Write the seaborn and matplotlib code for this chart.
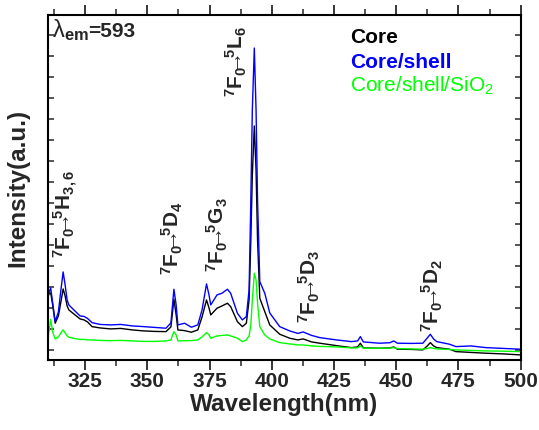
import numpy as np
import pandas as pd
import seaborn as sns
import matplotlib
matplotlib.use('Agg')
import matplotlib.pyplot as plt
from matplotlib.ticker import MultipleLocator, FixedLocator, NullFormatter

# wavelength grid (nm)
wl = [310.0, 310.6, 311.2, 312.0, 313.0, 314.3, 315.3, 316.2, 317.0, 317.8,
      318.5, 320.5, 323.0, 324.6, 326.0, 327.8, 331.0, 335.3, 339.3, 344.0,
      348.6, 353.0, 357.5, 359.5, 360.7, 361.6, 362.3, 365.0, 367.7, 370.3,
      372.0, 373.8, 374.8, 375.5, 378.0, 380.0, 382.2, 383.5, 386.2, 388.2,
      389.8, 390.9, 391.6, 392.2, 393.0, 393.7, 394.3, 395.2, 397.2, 399.2,
      403.2, 407.2, 410.5, 412.6, 416.0, 419.3, 426.0, 432.0, 434.5, 435.6,
      436.8, 443.3, 447.5, 449.0, 450.5, 456.0, 460.7, 462.5, 463.7, 465.0,
      466.3, 471.4, 474.0, 480.0, 486.0, 493.0, 500.0]

core = [63, 67, 67, 55, 36.7, 44, 58, 71, 64, 54,
        50, 46, 41, 40, 38, 33.3, 32, 31, 31.5, 30,
        29, 28.5, 28.3, 33, 60.7, 45, 30, 29.3, 27.7, 30,
        43, 60, 52, 45, 51.7, 54, 56.7, 53.3, 38.3, 33.3,
        36.7, 60, 120, 185, 234, 190, 120, 61.7, 48.3, 35,
        25.7, 21.7, 20, 21, 18, 16.7, 14.3, 12.3, 13, 16.7,
        12, 11.7, 12, 13, 10.7, 10.5, 10, 14, 17.3, 14,
        12.3, 10.7, 8.3, 7.5, 6.7, 6, 5]

core_shell = [60, 68, 72, 57, 38.5, 48, 70, 88, 75, 60,
              55, 50, 44, 43.5, 41.5, 37.3, 35.5, 35, 35.5, 34,
              33.3, 32.5, 31.7, 37, 70.7, 55, 35, 36.7, 32.7, 35,
              50, 76, 65, 55, 65, 66.7, 70.7, 66.7, 46.7, 40,
              43.3, 70, 160, 250, 312, 250, 160, 78.3, 66.7, 47,
              33.3, 29, 26.5, 28, 24.5, 22.3, 20, 18.3, 19, 23.3,
              18, 16.7, 17.2, 19, 16.7, 16.5, 16.7, 22, 25.7, 21,
              18.3, 15.7, 13.3, 14, 12.3, 11.5, 10.7]

core_shell_sio2 = [20, 30, 40.5, 28, 21, 23, 27, 30, 27, 24,
                   22.7, 21.5, 20.5, 20.5, 20, 20, 19.5, 19.3, 19.5, 19,
                   18.5, 18.5, 19, 20, 28.3, 25, 19, 19.2, 19.3, 20,
                   23, 27.3, 25, 21.7, 24, 24.5, 25, 24, 21.7, 18.3,
                   20, 24, 35, 60, 86.7, 80, 57, 33.3, 25, 21,
                   17.3, 16, 15, 15, 14, 13.5, 13, 12, 12, 14,
                   11.7, 11.7, 11.8, 12.3, 11.3, 11, 10.7, 11.5, 12.3, 11.5,
                   11, 10.5, 10, 9.5, 9, 8.7, 8.3]

samples = ['Core', 'Core/shell', 'Core/shell/SiO2']
colors = ['black', '#0000FF', '#00FF00']

# transition labels: (upper level, wavelength, intensity at label foot)
transitions = [
    ('H_{3,6}', 317.3, 102),
    ('D_{4}', 360.0, 85),
    ('G_{3}', 378.3, 88),
    ('L_{6}', 386.0, 263),
    ('D_{3}', 415.0, 37),
    ('D_{2}', 464.6, 28),
]

df = pd.DataFrame({
    'Wavelength': wl * 3,
    'Intensity': core + core_shell + core_shell_sio2,
    'Sample': sum([[s] * len(wl) for s in samples], []),
})

sns.set_style('ticks')
plt.rcParams['font.family'] = ['Liberation Sans', 'DejaVu Sans']
plt.rcParams['mathtext.fontset'] = 'custom'
plt.rcParams['mathtext.rm'] = 'Liberation Sans'
plt.rcParams['mathtext.bf'] = 'Liberation Sans:bold'
plt.rcParams['mathtext.it'] = 'Liberation Sans:italic'
plt.rcParams['mathtext.default'] = 'bf'

fig = plt.figure(figsize=(5.39, 4.30), dpi=100)
ax = fig.add_axes([0.0885, 0.163, 0.8775, 0.802])

sns.lineplot(data=df, x='Wavelength', y='Intensity', hue='Sample',
             palette=dict(zip(samples, colors)), estimator=None, sort=False,
             linewidth=1.0, legend=False, ax=ax)

ax.set_xlim(310, 500)
ax.set_ylim(0, 345)
ax.xaxis.set_major_locator(FixedLocator([325, 350, 375, 400, 425, 450, 475, 500]))
ax.xaxis.set_minor_locator(MultipleLocator(12.5))
ax.yaxis.set_major_locator(FixedLocator(np.arange(10, 345, 21)))
ax.yaxis.set_major_formatter(NullFormatter())

for s in ax.spines.values():
    s.set_linewidth(1.5)
    s.set_color('black')

ax.tick_params(axis='x', which='major', direction='out', length=7, width=1.3,
               labelsize=15, pad=2, top=True)
ax.tick_params(axis='x', which='minor', direction='out', length=4, width=1.1, top=True)
ax.tick_params(axis='y', which='major', direction='in', length=4, width=1.1,
               right=True)
for lab in ax.get_xticklabels():
    lab.set_fontweight('bold')

ax.set_xlabel('Wavelength(nm)', fontsize=17.5, fontweight='bold', labelpad=1)
ax.set_ylabel('Intensity(a.u.)', fontsize=17.5, fontweight='bold', labelpad=10)

for lvl, x, y in transitions:
    txt = (r'$^{7}$F$_{0}\!\!$' + '\u2192' + r'$\!\!^{5}$' + lvl[0]
           + '$' + lvl[1:] + '$')
    ax.text(x, y, txt, rotation=90, ha='center', va='bottom', fontsize=15,
            fontweight='bold')

ax.text(0.009, 0.935, r'$\mathrm{\lambda}_{em}$', transform=ax.transAxes,
        fontsize=17, va='baseline')
ax.text(0.085, 0.935, '=593', transform=ax.transAxes, fontsize=15,
        fontweight='bold', va='baseline')

ax.text(0.639, 0.919, 'Core', transform=ax.transAxes, fontsize=15,
        fontweight='bold', color=colors[0], va='baseline')
ax.text(0.639, 0.846, 'Core/shell', transform=ax.transAxes, fontsize=15,
        fontweight='bold', color=colors[1], va='baseline')
ax.text(0.639, 0.777, r'Core/shell/SiO$\mathrm{_2}$', transform=ax.transAxes,
        fontsize=15, color=colors[2], va='baseline')

fig.savefig('out.png', dpi=100)
